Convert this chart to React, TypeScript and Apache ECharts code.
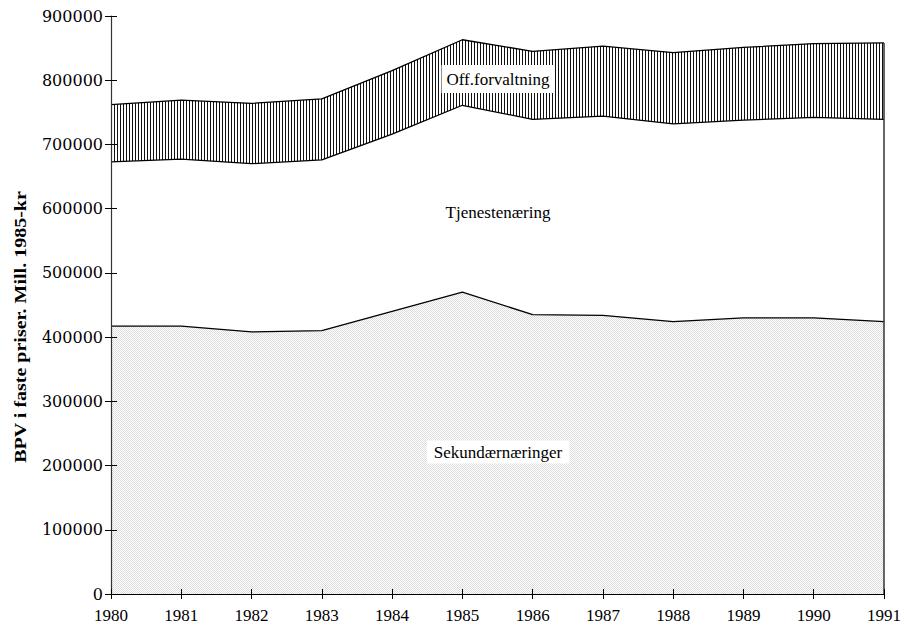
import React, { useEffect, useRef } from "react";
import * as echarts from "echarts";

const years = ["1980", "1981", "1982", "1983", "1984", "1985", "1986", "1987", "1988", "1989", "1990", "1991"];
// upper boundary of Off.forvaltning (total)
const offTop = [762000, 769000, 764000, 771000, 815000, 863000, 845000, 853000, 843000, 851000, 857000, 858000];
// upper boundary of Tjenestenæring
const tjenesteTop = [673000, 677000, 670000, 676000, 716000, 761000, 739000, 744000, 732000, 738000, 742000, 739000];
// Sekundærnæringer
const sekundaer = [417000, 417000, 408000, 410000, 440000, 470000, 435000, 434000, 424000, 430000, 430000, 424000];

const SERIF = '"Liberation Serif", "Times New Roman", serif';
const WIDE_SERIF = '"DejaVu Serif", serif';

function makeHatch(): HTMLCanvasElement {
  const c = document.createElement("canvas");
  c.width = 3;
  c.height = 3;
  const g = c.getContext("2d")!;
  g.fillStyle = "#ffffff";
  g.fillRect(0, 0, 3, 3);
  g.fillStyle = "#111111";
  g.fillRect(0, 0, 1, 3);
  return c;
}

function makeDots(): HTMLCanvasElement {
  const c = document.createElement("canvas");
  c.width = 2;
  c.height = 2;
  const g = c.getContext("2d")!;
  g.fillStyle = "#ffffff";
  g.fillRect(0, 0, 2, 2);
  g.fillStyle = "#dcdcdc";
  g.fillRect(0, 0, 1, 1);
  g.fillRect(1, 1, 1, 1);
  return c;
}

export default function App() {
  const ref = useRef<HTMLDivElement>(null);
  useEffect(() => {
    if (!ref.current) return;
    const chart = echarts.init(ref.current, undefined, { renderer: "svg" });
    const hatch = makeHatch();
    const dots = makeDots();
    const lineStyle = { color: "#000", width: 1.3 };
    chart.setOption({
      animation: false,
      backgroundColor: "#fff",
      grid: { left: 111, right: 18, top: 16, bottom: 38 },
      xAxis: [
        {
          type: "category",
          data: years,
          boundaryGap: false,
          z: 5,
          axisLine: { show: true, lineStyle: { color: "#000", width: 1 } },
          axisTick: { show: true, length: 5, lineStyle: { color: "#000" } },
          axisLabel: { color: "#000", fontFamily: SERIF, fontSize: 17, margin: 13 },
          splitLine: { show: false },
        },
        {
          type: "category",
          data: years,
          boundaryGap: false,
          position: "bottom",
          z: 6,
          axisLine: { show: false },
          axisTick: { show: true, inside: true, length: 5, lineStyle: { color: "#000" } },
          axisLabel: { show: false },
          splitLine: { show: false },
        },
      ],
      yAxis: [
        {
          type: "value",
          min: 0,
          max: 900000,
          interval: 100000,
          z: 5,
          axisLine: { show: true, lineStyle: { color: "#333", width: 1.2 } },
          axisTick: { show: true, length: 6, lineStyle: { color: "#000" } },
          axisLabel: {
            color: "#000",
            fontFamily: WIDE_SERIF,
            fontSize: 16,
            margin: 8,
            formatter: (v: number) => String(v),
          },
          splitLine: { show: false },
        },
        {
          type: "value",
          min: 0,
          max: 900000,
          interval: 100000,
          position: "left",
          z: 6,
          axisLine: { show: false },
          axisTick: { show: true, inside: true, length: 6, lineStyle: { color: "#000" } },
          axisLabel: { show: false },
          splitLine: { show: false },
        },
      ],
      series: [
        {
          name: "Off.forvaltning",
          type: "line",
          data: offTop,
          symbol: "none",
          silent: true,
          lineStyle,
          areaStyle: { color: { image: hatch, repeat: "repeat" }, opacity: 1 },
          z: 2,
        },
        {
          name: "Tjenestenæring",
          type: "line",
          data: tjenesteTop,
          symbol: "none",
          silent: true,
          lineStyle,
          areaStyle: { color: "#ffffff", opacity: 1 },
          z: 3,
        },
        {
          name: "Sekundærnæringer",
          type: "line",
          data: sekundaer,
          symbol: "none",
          silent: true,
          lineStyle,
          areaStyle: { color: { image: dots, repeat: "repeat" }, opacity: 1 },
          z: 4,
          markLine: {
            silent: true,
            symbol: "none",
            label: { show: false },
            lineStyle: { color: "#333", width: 1.5, type: "solid" },
            data: [[{ coord: [years[years.length - 1], 0] }, { coord: [years[years.length - 1], offTop[offTop.length - 1]] }]],
          },
        },
      ],
      graphic: [
        {
          type: "text",
          z: 100,
          x: 498,
          y: 79,
          style: {
            text: "Off.forvaltning",
            align: "center",
            verticalAlign: "middle",
            fill: "#000",
            font: `17px ${SERIF}`,
            backgroundColor: "#fff",
            padding: [6, 5, 5, 5],
          },
        },
        {
          type: "text",
          z: 100,
          x: 498,
          y: 212,
          style: {
            text: "Tjenestenæring",
            align: "center",
            verticalAlign: "middle",
            fill: "#000",
            font: `17px ${SERIF}`,
          },
        },
        {
          type: "text",
          z: 100,
          x: 498,
          y: 452,
          style: {
            text: "Sekundærnæringer",
            align: "center",
            verticalAlign: "middle",
            fill: "#000",
            font: `17px ${SERIF}`,
            backgroundColor: "#fff",
            padding: [3, 7, 3, 7],
          },
        },
        {
          type: "text",
          z: 100,
          x: 21,
          y: 327,
          rotation: Math.PI / 2,
          scaleX: 1.25,
          style: {
            text: "BPV i faste priser. Mill. 1985-kr",
            align: "center",
            verticalAlign: "middle",
            fill: "#000",
            font: `bold 16px ${SERIF}`,
          },
        },
      ],
    });
    return () => chart.dispose();
  }, []);
  return <div ref={ref} style={{ width: 904, height: 632, position: "absolute", left: 0, top: 0 }} />;
}
